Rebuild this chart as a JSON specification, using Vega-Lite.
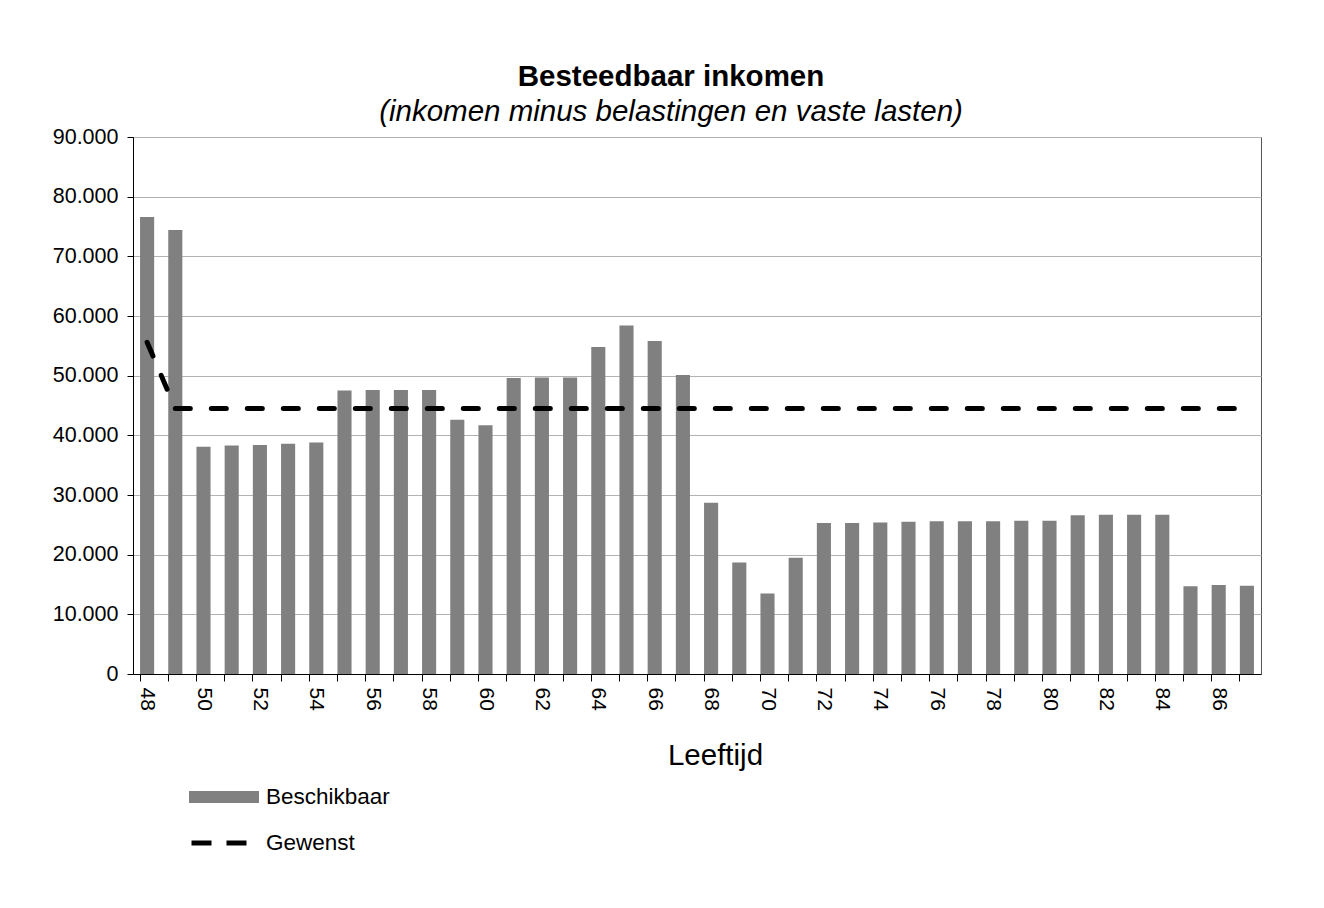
{
  "$schema": "https://vega.github.io/schema/vega-lite/v6.json",
  "width": 1128,
  "height": 537,
  "autosize": {"type": "none"},
  "padding": {"left": 133, "top": 137, "right": 63, "bottom": 234},
  "background": "white",
  "config": {
    "font": "Liberation Sans",
    "view": {"stroke": "#555555", "strokeWidth": 1}
  },
  "title": {
    "text": "Besteedbaar inkomen",
    "subtitle": "(inkomen minus belastingen en vaste lasten)",
    "font": "Liberation Sans",
    "subtitleFont": "Liberation Sans",
    "fontSize": 29.5,
    "fontWeight": "bold",
    "color": "black",
    "subtitleFontSize": 29.5,
    "subtitleFontStyle": "italic",
    "subtitleColor": "black",
    "subtitlePadding": 5,
    "anchor": "middle",
    "dx": -26,
    "offset": -1
  },
  "data": {
    "values": [
      {"leeftijd": 48, "beschikbaar": 76600, "gewenst": 55600},
      {"leeftijd": 49, "beschikbaar": 74400, "gewenst": 44500},
      {"leeftijd": 50, "beschikbaar": 38100, "gewenst": 44500},
      {"leeftijd": 51, "beschikbaar": 38300, "gewenst": 44500},
      {"leeftijd": 52, "beschikbaar": 38400, "gewenst": 44500},
      {"leeftijd": 53, "beschikbaar": 38600, "gewenst": 44500},
      {"leeftijd": 54, "beschikbaar": 38800, "gewenst": 44500},
      {"leeftijd": 55, "beschikbaar": 47500, "gewenst": 44500},
      {"leeftijd": 56, "beschikbaar": 47600, "gewenst": 44500},
      {"leeftijd": 57, "beschikbaar": 47600, "gewenst": 44500},
      {"leeftijd": 58, "beschikbaar": 47600, "gewenst": 44500},
      {"leeftijd": 59, "beschikbaar": 42600, "gewenst": 44500},
      {"leeftijd": 60, "beschikbaar": 41700, "gewenst": 44500},
      {"leeftijd": 61, "beschikbaar": 49600, "gewenst": 44500},
      {"leeftijd": 62, "beschikbaar": 49700, "gewenst": 44500},
      {"leeftijd": 63, "beschikbaar": 49700, "gewenst": 44500},
      {"leeftijd": 64, "beschikbaar": 54800, "gewenst": 44500},
      {"leeftijd": 65, "beschikbaar": 58400, "gewenst": 44500},
      {"leeftijd": 66, "beschikbaar": 55800, "gewenst": 44500},
      {"leeftijd": 67, "beschikbaar": 50100, "gewenst": 44500},
      {"leeftijd": 68, "beschikbaar": 28700, "gewenst": 44500},
      {"leeftijd": 69, "beschikbaar": 18700, "gewenst": 44500},
      {"leeftijd": 70, "beschikbaar": 13500, "gewenst": 44500},
      {"leeftijd": 71, "beschikbaar": 19500, "gewenst": 44500},
      {"leeftijd": 72, "beschikbaar": 25300, "gewenst": 44500},
      {"leeftijd": 73, "beschikbaar": 25300, "gewenst": 44500},
      {"leeftijd": 74, "beschikbaar": 25400, "gewenst": 44500},
      {"leeftijd": 75, "beschikbaar": 25500, "gewenst": 44500},
      {"leeftijd": 76, "beschikbaar": 25600, "gewenst": 44500},
      {"leeftijd": 77, "beschikbaar": 25600, "gewenst": 44500},
      {"leeftijd": 78, "beschikbaar": 25600, "gewenst": 44500},
      {"leeftijd": 79, "beschikbaar": 25700, "gewenst": 44500},
      {"leeftijd": 80, "beschikbaar": 25700, "gewenst": 44500},
      {"leeftijd": 81, "beschikbaar": 26600, "gewenst": 44500},
      {"leeftijd": 82, "beschikbaar": 26700, "gewenst": 44500},
      {"leeftijd": 83, "beschikbaar": 26700, "gewenst": 44500},
      {"leeftijd": 84, "beschikbaar": 26700, "gewenst": 44500},
      {"leeftijd": 85, "beschikbaar": 14700, "gewenst": 44500},
      {"leeftijd": 86, "beschikbaar": 14900, "gewenst": 44500},
      {"leeftijd": 87, "beschikbaar": 14800, "gewenst": 44500}
    ]
  },
  "encoding": {
    "x": {
      "field": "leeftijd",
      "type": "ordinal",
      "scale": {"paddingInner": 0.5, "paddingOuter": 0.25},
      "axis": {
        "title": "Leeftijd",
        "titleFontSize": 29.5,
        "titleFontWeight": "normal",
        "titleColor": "black",
        "titleX": 582,
        "titleY": 90,
        "titleAlign": "center",
        "titleBaseline": "alphabetic",
        "labelAngle": 90,
        "labelAlign": "left",
        "labelBaseline": "middle",
        "labelFontSize": 21,
        "labelColor": "black",
        "labelPadding": 6,
        "labelOverlap": false,
        "labelExpr": "datum.value % 2 == 0 ? datum.label : ''",
        "bandPosition": 0,
        "tickSize": 7,
        "tickColor": "black",
        "domainColor": "black",
        "grid": false
      }
    }
  },
  "layer": [
    {
      "mark": {"type": "bar"},
      "encoding": {
        "y": {
          "field": "beschikbaar",
          "type": "quantitative",
          "scale": {"domain": [0, 90000], "nice": false},
          "axis": {
            "title": null,
            "values": [0, 10000, 20000, 30000, 40000, 50000, 60000, 70000, 80000, 90000],
            "labelExpr": "replace(format(datum.value, ','), ',', '.')",
            "labelFontSize": 21.5,
            "labelColor": "black",
            "labelPadding": 9,
            "tickSize": 6,
            "tickColor": "black",
            "domainColor": "black",
            "grid": true,
            "gridColor": "#b3b3b3"
          }
        },
        "fill": {
          "datum": "Beschikbaar",
          "type": "nominal",
          "scale": {"range": ["#808080"]},
          "legend": {
            "title": null,
            "orient": "none",
            "legendX": 56,
            "legendY": 625,
            "padding": 0,
            "symbolType": "M-1,-0.171H1V0.171H-1Z",
            "symbolSize": 4900,
            "symbolStrokeWidth": 0,
            "labelFontSize": 22.5,
            "labelColor": "black",
            "labelOffset": 7
          }
        }
      }
    },
    {
      "mark": {"type": "line", "strokeWidth": 5, "strokeDash": [15, 21], "strokeCap": "round"},
      "encoding": {
        "y": {"field": "gewenst", "type": "quantitative"},
        "stroke": {
          "datum": "Gewenst",
          "type": "nominal",
          "scale": {"range": ["black"]},
          "legend": {
            "title": null,
            "orient": "none",
            "legendX": 56,
            "legendY": 676,
            "padding": 0,
            "symbolType": "stroke",
            "symbolSize": 3025,
            "symbolStrokeWidth": 5,
            "symbolStrokeColor": "black",
            "symbolDash": [20, 15],
            "labelFontSize": 22.5,
            "labelColor": "black",
            "labelOffset": 17,
            "encode": {"symbols": {"update": {"strokeDash": {"value": [20, 15]}, "strokeCap": {"value": "butt"}}}}
          }
        }
      }
    }
  ]
}
